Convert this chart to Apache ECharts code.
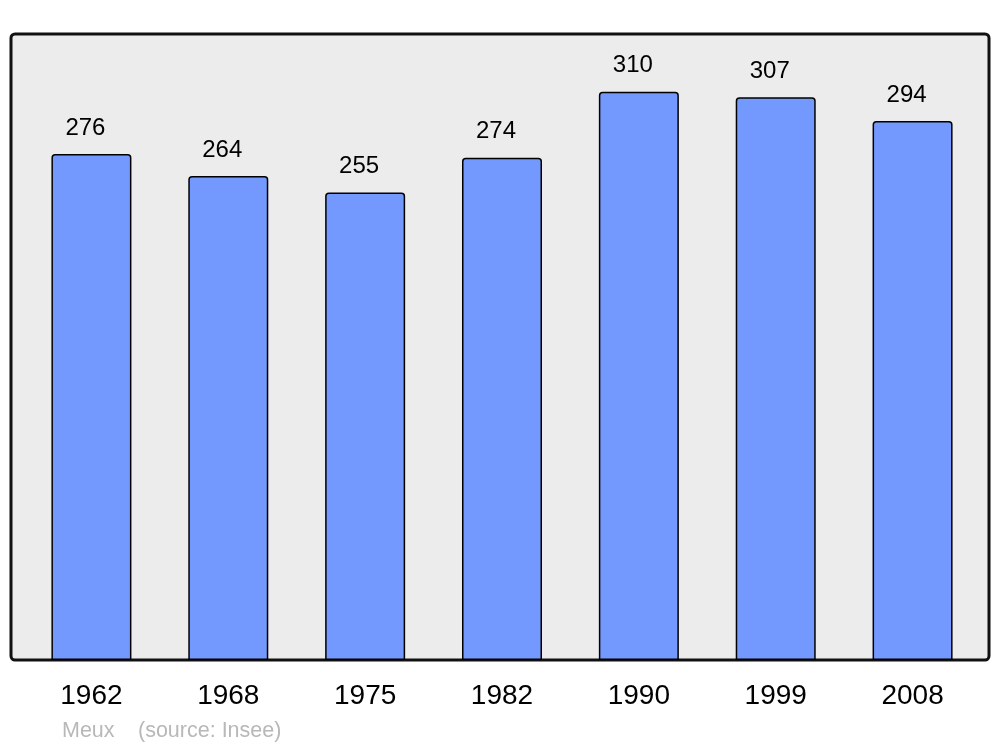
<!DOCTYPE html>
<html>
<head>
<meta charset="utf-8">
<script src="https://cdn.jsdelivr.net/npm/echarts@6/dist/echarts.min.js"></script>
<style>
  html, body { margin: 0; padding: 0; background: #fff; }
  #chart { width: 1000px; height: 747px; }
</style>
</head>
<body>
<div id="chart"></div>
<script>
const years = ['1962', '1968', '1975', '1982', '1990', '1999', '2008']
const population = [276, 264, 255, 274, 310, 307, 294]
const commune = 'Meux'
const source = '(source: Insee)'

const chart = echarts.init(document.getElementById('chart'), null, { renderer: 'canvas' })

const option = {
  animation: false,
  backgroundColor: '#fff',
  graphic: [
    {
      type: 'rect',
      z: -10,
      shape: { x: 11, y: 34, width: 978, height: 626, r: 4 },
      style: { fill: '#ececec', stroke: '#111', lineWidth: 3 }
    },
    {
      type: 'text',
      left: 62,
      top: 720,
      style: { text: commune, fill: '#b8b8b8', font: '21.5px "Liberation Sans", Arial, sans-serif' }
    },
    {
      type: 'text',
      left: 138,
      top: 720,
      style: { text: source, fill: '#b8b8b8', font: '21.5px "Liberation Sans", Arial, sans-serif' }
    }
  ],
  grid: {
    left: 23,
    right: 19,
    top: 34,
    bottom: 87,
    containLabel: false
  },
  xAxis: {
    type: 'category',
    data: years,
    axisLine: { show: false },
    axisTick: { show: false },
    axisLabel: {
      margin: 22,
      color: '#000',
      fontSize: 28,
      fontFamily: '"Liberation Sans", Arial, sans-serif'
    }
  },
  yAxis: {
    type: 'value',
    min: 0,
    max: 341.5,
    show: false,
    splitLine: { show: false }
  },
  series: [
    {
      type: 'bar',
      data: population,
      barWidth: 80,
      itemStyle: {
        color: '#7399ff',
        borderColor: '#000',
        borderWidth: 1.5,
        borderRadius: [3, 3, 0, 0]
      },
      label: {
        show: true,
        position: 'top',
        distance: 14,
        offset: [-6, 0],
        color: '#000',
        fontSize: 24,
        fontFamily: '"Liberation Sans", Arial, sans-serif'
      }
    }
  ]
}

chart.setOption(option)
</script>
</body>
</html>
